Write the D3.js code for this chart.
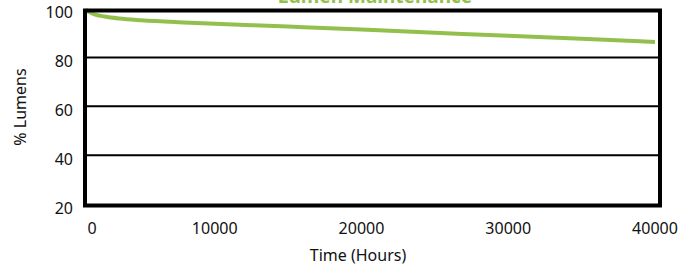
<!DOCTYPE html>
<html>
<head>
<meta charset="utf-8">
<script src="https://cdn.jsdelivr.net/npm/d3@7"></script>
<style>
  body { margin: 0; background: #fff; }
  text { font-family: "Noto Sans", sans-serif; fill: #111; }
</style>
</head>
<body>
<svg id="chart" width="689" height="267"></svg>
<script>
// lumen maintenance curve
const hours = [1200, 1800, 2500, 3500, 5000, 7500, 10000, 15000, 20000, 25000, 30000, 35000, 40000];
const lumens = [99.5, 97.6, 96.7, 95.9, 95.2, 94.4, 93.8, 92.6, 91.4, 90.1, 88.8, 87.6, 86.3];
const xTicks = [0, 10000, 20000, 30000, 40000];
const yTicks = [20, 40, 60, 80, 100];

const svg = d3.select("svg#chart");
const x = d3.scaleLinear().domain([0, 40000]).range([68, 655]);
const y = d3.scaleLinear().domain([20, 100]).range([204, 8.5]);

const green = "#93bf4c";

// title, mostly cut off at the top edge like in the source image
svg.append("text")
  .attr("x", 375).attr("y", 3)
  .attr("text-anchor", "middle")
  .attr("font-size", 19).attr("font-weight", "bold")
  .style("fill", green)
  .text("Lumen Maintenance");

// grid lines
svg.append("g")
  .selectAll("line")
  .data(yTicks.filter((d) => d > 20 && d < 100))
  .join("line")
  .attr("x1", 85).attr("x2", 660)
  .attr("y1", (d) => y(d)).attr("y2", (d) => y(d))
  .attr("stroke", "#000").attr("stroke-width", 2);

// y axis labels
svg.append("g")
  .selectAll("text")
  .data(yTicks)
  .join("text")
  .attr("x", 73)
  .attr("y", (d) => y(d) + 4)
  .attr("dy", "0.35em")
  .attr("text-anchor", "end")
  .attr("font-size", 16)
  .text((d) => d);

// x axis labels (the first one sits inside the frame)
svg.append("g")
  .selectAll("text")
  .data(xTicks)
  .join("text")
  .attr("x", (d) => (d === 0 ? 92 : x(d)))
  .attr("y", 228)
  .attr("dy", "0.35em")
  .attr("text-anchor", "middle")
  .attr("font-size", 16)
  .text((d) => d);

// the curve
const line = d3.line()
  .x((d) => x(d[0]))
  .y((d) => y(d[1]))
  .curve(d3.curveMonotoneX);

svg.append("path")
  .datum(d3.zip(hours, lumens))
  .attr("fill", "none")
  .attr("stroke", green)
  .attr("stroke-width", 4)
  .attr("d", line);

// frame
svg.append("rect")
  .attr("x", 85).attr("y", y(100) + 2)
  .attr("width", 575).attr("height", y(20) - y(100) - 0.5)
  .attr("fill", "none")
  .attr("stroke", "#000")
  .attr("stroke-width", 4);

// axis titles
svg.append("text")
  .attr("x", 358).attr("y", 255)
  .attr("dy", "0.35em")
  .attr("text-anchor", "middle")
  .attr("font-size", 16)
  .text("Time (Hours)");

svg.append("text")
  .attr("transform", "translate(20,107) rotate(-90)")
  .attr("dy", "0.35em")
  .attr("text-anchor", "middle")
  .attr("font-size", 16)
  .text("% Lumens");
</script>
</body>
</html>
